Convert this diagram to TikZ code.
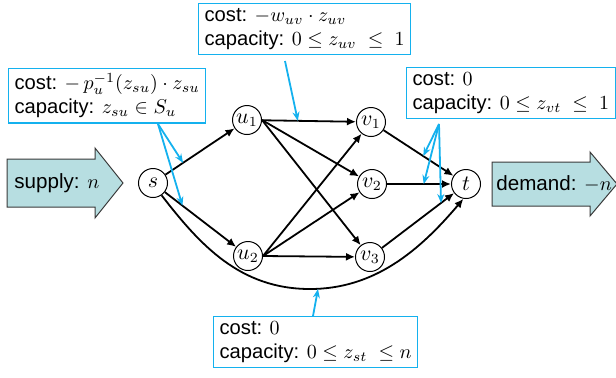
\documentclass[tikz,border=0pt]{standalone}
\usepackage{amsmath}
\usepackage{fontspec}
\setmainfont{Liberation Sans}
\usepackage{tikz}
\usetikzlibrary{arrows.meta,calc}
\definecolor{callout}{HTML}{14B1EE}
\definecolor{flowfill}{HTML}{B7DEE1}
\definecolor{flowline}{HTML}{3A3A3A}
\tikzset{
  vertex/.style={circle,draw,line width=.5pt,minimum size=14.5pt,inner sep=0pt,fill=white,
    font=\fontsize{10.5}{12}\selectfont},
  edge/.style={-{Latex[length=4.5pt,width=4pt]},line width=.9pt},
  notebox/.style={draw=callout,line width=.6pt,align=left,anchor=north west,
    inner xsep=3pt,inner ysep=2.5pt,font=\fontsize{10.1}{12}\selectfont},
  pointer/.style={-{Stealth[length=4.5pt,width=3.5pt]},draw=callout,line width=.9pt},
  bigflow/.style={draw=flowline,fill=flowfill,line width=.5pt,line join=miter},
  flowtext/.style={anchor=west,inner sep=0pt,font=\fontsize{10.3}{12}\selectfont}
}

\begin{document}
\begin{tikzpicture}[x=.5pt,y=-.5pt]
  \useasboundingbox (0,0) rectangle (616,377);

  % supply and demand
  \draw[bigflow] (7,159) -- (95,159) -- (95,148) -- (123,183) -- (95,218)
    -- (95,207) -- (7,207) -- cycle;
  \draw[bigflow] (492,162) -- (590,162) -- (590,152) -- (617,184) -- (590,216)
    -- (590,206) -- (492,206) -- cycle;
  \node[flowtext] (supply) at (14,183) {supply: $n$};
  \node[flowtext] (demand) at (496,184) {demand: $-n$};

  % nodes of the network
  \node[vertex] (s) at (153,183) {$s$};
  \node[vertex] (u1) at (247,120) {$u_1$};
  \node[vertex] (u2) at (248,256) {$u_2$};
  \node[vertex] (v1) at (371,122) {$v_1$};
  \node[vertex] (v2) at (372,184) {$v_2$};
  \node[vertex] (v3) at (370,257) {$v_3$};
  \node[vertex] (t) at (466,184) {$t$};

  % arcs
  \draw[edge] (s) -- (u1);
  \draw[edge] (s) -- (u2);
  \draw[edge] (u1) -- (v1);
  \draw[edge] (u1.east) -- (v2);
  \draw[edge] (u1.east) -- (v3);
  \draw[edge] (u2.east) -- (v1);
  \draw[edge] (u2.east) -- (v2);
  \draw[edge] (u2.east) -- (v3);
  \draw[edge] (v1) -- (t);
  \draw[edge] (v2) -- (t);
  \draw[edge] (v3) -- (t);
  \draw[edge] (s.-55) .. controls (200,245) and (240,289) .. (310,289)
    .. controls (375,289) and (420,250) .. (t.-100);
  \coordinate (stlow) at (318,289);

  % cost and capacity boxes
  \node[notebox] (boxsu) at (8,68)
    {cost: $-\,p_u^{-1}(z_{su})\cdot z_{su}$\\capacity: $z_{su}\in S_u$};
  \node[notebox] (boxuv) at (198,3)
    {cost: $-w_{uv}\cdot z_{uv}$\\capacity: $0\le z_{uv}\ \le\ 1$};
  \node[notebox] (boxvt) at (406,67)
    {cost: $0$\\capacity: $0\le z_{vt}\ \le\ 1$};
  \node[notebox] (boxst) at (213,316)
    {cost: $0$\\capacity: $0\le z_{st}\ \le n$};

  % pointers from the boxes
  \coordinate (psu) at (158,124);
  \coordinate (puv) at (285,61);
  \coordinate (pvt) at (439,124);
  \coordinate (pst) at (313,316);
  \draw[pointer] (psu) -- ($(s)!.32!(u1)$);
  \draw[pointer] (psu) -- ($(s)!.31!(u2)$);
  \draw[pointer] (puv) -- ($(u1)!.41!(v1)$);
  \draw[pointer] (pvt) -- ($(v1)!.55!(t)$);
  \draw[pointer] (pvt) -- ($(v2)!.55!(t)$);
  \draw[pointer] (pvt) -- ($(v3)!.74!(t)$);
  \draw[pointer] (pst) -- (stlow);
\end{tikzpicture}
\end{document}
